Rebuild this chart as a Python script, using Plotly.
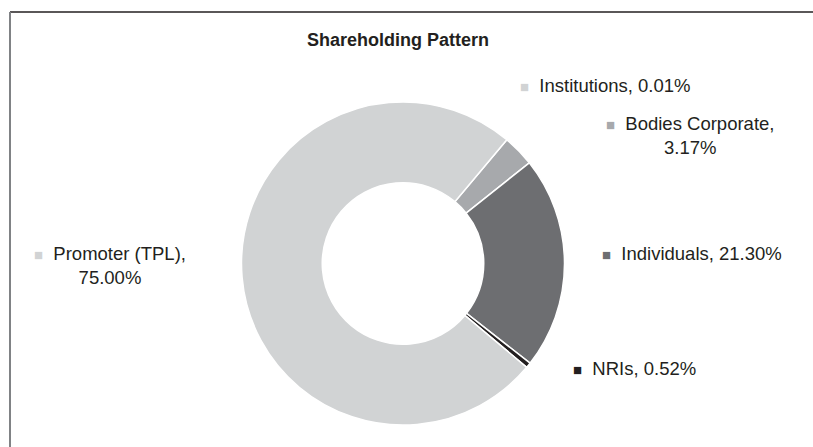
import plotly.graph_objects as go

# shareholding split, clockwise from the Promoter / Institutions boundary
labels = ["Institutions", "Bodies Corporate", "Individuals", "NRIs", "Promoter (TPL)"]
values = [0.01, 3.17, 21.30, 0.52, 75.00]
colors = ["#d1d3d4", "#a7a9ac", "#6d6e71", "#231f20", "#d1d3d4"]

W, H = 813, 447
TEXT = "#231f20"
FONT = "Liberation Sans, Arial, sans-serif"

fig = go.Figure()
fig.add_trace(go.Pie(
    labels=labels,
    values=values,
    hole=0.5,
    sort=False,
    direction="clockwise",
    rotation=40,
    textinfo="none",
    marker=dict(colors=colors, line=dict(color="white", width=1.5)),
    domain=dict(x=[241.5 / W, 564.5 / W], y=[1 - 425 / H, 1 - 102 / H]),
    showlegend=False,
))

# label placement: (x px, y px, anchor, break after comma)
label_pos = {
    "Institutions": (518, 85, "left", False),
    "Bodies Corporate": (690, 136, "center", True),
    "Individuals": (600, 253, "left", False),
    "NRIs": (571, 368, "left", False),
    "Promoter (TPL)": (110, 265, "center", True),
}

for name, val, col in zip(labels, values, colors):
    x, y, anchor, wrap = label_pos[name]
    sep = ",<br>" if wrap else ", "
    txt = (f'<span style="font-size:15px;color:{col}">■</span>\u00a0 '
           f"{name}{sep}{val:.2f}%")
    fig.add_annotation(
        x=x / W, y=1 - y / H, xref="paper", yref="paper",
        text=txt, showarrow=False, xanchor=anchor, yanchor="middle",
        align="center", font=dict(family=FONT, size=18.5, color=TEXT),
    )

fig.add_annotation(
    x=397.5 / W, y=1 - 40 / H, xref="paper", yref="paper",
    text="<b>Shareholding Pattern</b>", showarrow=False,
    xanchor="center", yanchor="middle",
    font=dict(family=FONT, size=18, color=TEXT),
)

# frame lines (top and left only)
fig.add_shape(type="line", xref="paper", yref="paper",
              x0=10 / W, x1=1, y0=1 - 12 / H, y1=1 - 12 / H,
              line=dict(color="#231f20", width=1.5))
fig.add_shape(type="line", xref="paper", yref="paper",
              x0=10 / W, x1=10 / W, y0=0, y1=1 - 12 / H,
              line=dict(color="#808285", width=2))

fig.update_layout(
    width=W, height=H,
    margin=dict(l=0, r=0, t=0, b=0),
    paper_bgcolor="white",
    plot_bgcolor="white",
)

# drop the default page margin so the figure sits at the window corner
fig.write_html("out.html",
               config={"displayModeBar": False},
               post_script="document.body.style.margin='0';"
                           "document.body.style.overflow='hidden';")
